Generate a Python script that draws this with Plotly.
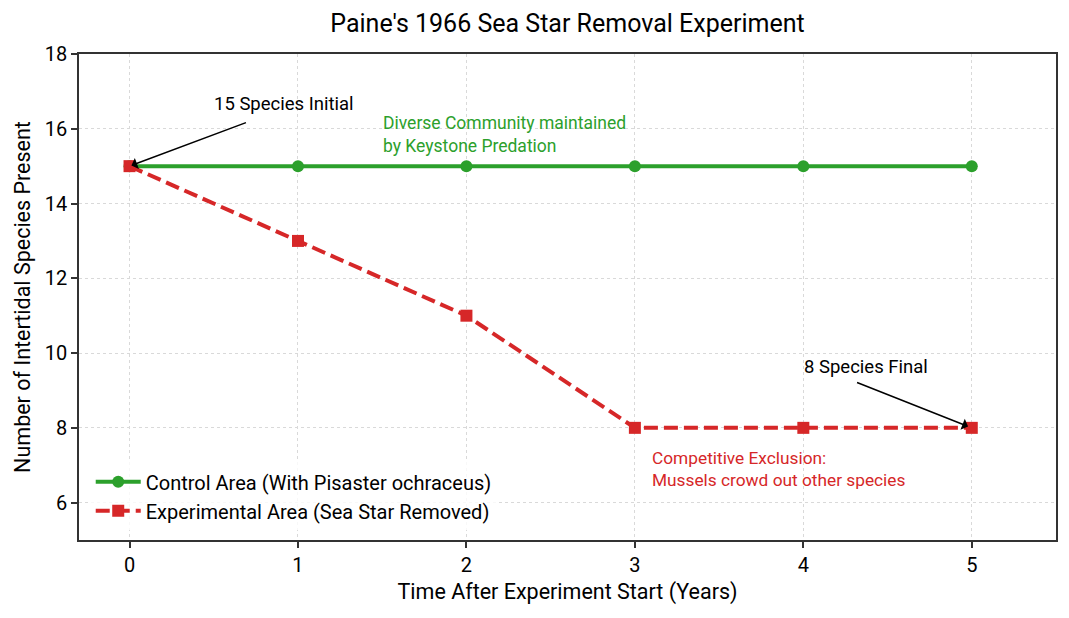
import plotly.graph_objects as go

years = [0, 1, 2, 3, 4, 5]
control_species = [15, 15, 15, 15, 15, 15]
experimental_species = [15, 13, 11, 8, 8, 8]
y_ticks = [6, 8, 10, 12, 14, 16, 18]

green = "#2ca02c"
red = "#d62728"
font_name = "Roboto"

fig = go.Figure()
fig.add_trace(go.Scatter(x=years, y=control_species, mode="lines+markers",
                         name="Control Area (With Pisaster ochraceus)",
                         line=dict(color=green, width=4),
                         marker=dict(symbol="circle", size=12, color=green)))
fig.add_trace(go.Scatter(x=years, y=experimental_species, mode="lines+markers",
                         name="Experimental Area (Sea Star Removed)",
                         line=dict(color=red, width=4, dash="14px,6px"),
                         marker=dict(symbol="square", size=12, color=red)))


def note(x, y, text, color, size):
    # left-aligned text block, centred vertically on y
    fig.add_annotation(x=x, y=y, xref="x", yref="y", text=text, showarrow=False,
                       xanchor="left", yanchor="middle", align="left",
                       font=dict(size=size, color=color))


fig.add_annotation(x=0, y=15, ax=0.70, ay=16.18, xref="x", yref="y", axref="x", ayref="y",
                   text="", showarrow=True, arrowhead=1, arrowsize=1.3, arrowwidth=1.5,
                   arrowcolor="black", standoff=2)
note(0.49, 16.66, "15 Species Initial", "black", 18.5)
fig.add_annotation(x=5, y=8, ax=4.31, ay=9.23, xref="x", yref="y", axref="x", ayref="y",
                   text="", showarrow=True, arrowhead=1, arrowsize=1.3, arrowwidth=1.5,
                   arrowcolor="black", standoff=4)
note(3.99, 9.63, "8 Species Final", "black", 18.5)
note(1.49, 15.86, "Diverse Community maintained<br>by Keystone Predation", green, 17.5)
note(3.09, 6.89, "Competitive Exclusion:<br>Mussels crowd out other species", red, 17.3)

axis_style = dict(showline=True, linecolor="#333333", linewidth=1.5, mirror=True,
                  ticks="outside", tickcolor="#333333", ticklen=6, tickwidth=1.5,
                  automargin=False,
                  showgrid=True, gridcolor="#d9d9d9", griddash="dot", gridwidth=1,
                  zeroline=False, tickfont=dict(size=20, color="black"))

fig.update_xaxes(range=[-0.3, 5.5], tickvals=years, title_text="Time After Experiment Start (Years)",
                 title_font=dict(size=21.5, color="black"), title_standoff=8, **axis_style)
fig.update_yaxes(range=[5, 18], tickvals=y_ticks,
                 title_text="Number of Intertidal Species Present",
                 title_font=dict(size=21.5, color="black"), title_standoff=8, **axis_style)

# page body has an 8px margin, so the figure is 16px smaller than the window
fig.update_layout(
    width=1053, height=602,
    title=dict(text="Paine's 1966 Sea Star Removal Experiment", x=0.5, xanchor="center",
               xref="paper", yref="container", y=0.975, yanchor="middle",
               font=dict(size=25, color="black")),
    font=dict(family=font_name, color="black"),
    plot_bgcolor="white", paper_bgcolor="white",
    margin=dict(l=71, r=5, t=46, b=70),
    legend=dict(x=0.012, y=0.02, xanchor="left", yanchor="bottom", itemwidth=45,
                bgcolor="rgba(255,255,255,0.8)", font=dict(size=20, color="black")),
)

fig.write_html("out.html")
